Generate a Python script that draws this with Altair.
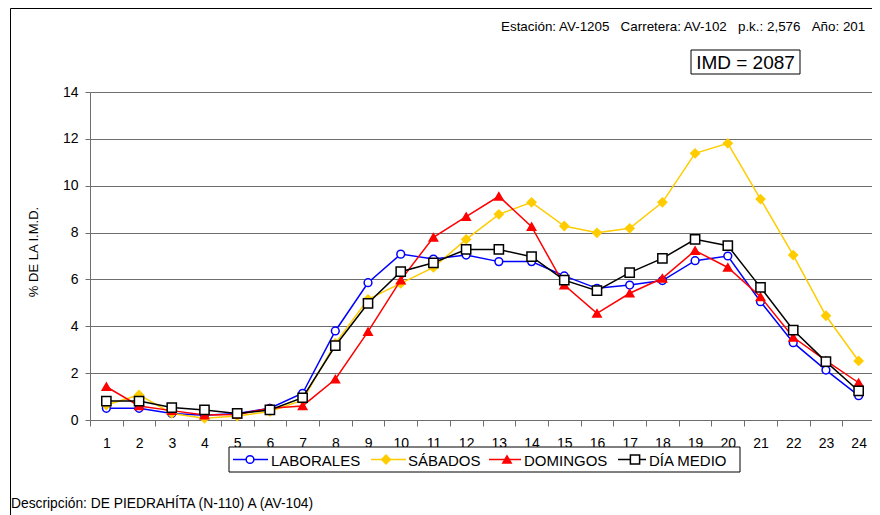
import altair as alt
import pandas as pd

hours = list(range(1, 25))
laborales = [0.50, 0.50, 0.28, 0.20, 0.28, 0.50, 1.14, 3.80, 5.86, 7.08, 6.87, 7.04,
             6.76, 6.76, 6.15, 5.62, 5.76, 5.95, 6.80, 7.00, 5.05, 3.30, 2.13, 1.04]
sabados = [0.64, 1.07, 0.28, 0.07, 0.17, 0.36, 0.85, 3.27, 5.15, 5.83, 6.51, 7.71,
           8.78, 9.29, 8.28, 7.99, 8.18, 9.29, 11.38, 11.81, 9.43, 7.04, 4.45, 2.52]
domingos = [1.42, 0.60, 0.40, 0.21, 0.24, 0.50, 0.60, 1.74, 3.77, 5.97, 7.80, 8.68,
            9.55, 8.25, 5.76, 4.55, 5.41, 6.05, 7.23, 6.51, 5.26, 3.53, 2.53, 1.59]
dia_medio = [0.81, 0.81, 0.53, 0.43, 0.28, 0.43, 0.95, 3.17, 4.98, 6.33, 6.71, 7.28,
             7.28, 6.97, 5.97, 5.52, 6.29, 6.90, 7.71, 7.44, 5.66, 3.84, 2.49, 1.24]

series_names = ["LABORALES", "SÁBADOS", "DOMINGOS", "DÍA MEDIO"]
series_vals = [laborales, sabados, domingos, dia_medio]
y_ticks = [0, 2, 4, 6, 8, 10, 12, 14]

SP = "\u00a0\u00a0\u00a0"
header_text = SP.join(["Estación: AV-1205", "Carretera: AV-102", "p.k.: 2,576", "Año: 201"])
imd_text = "IMD = 2087"
y_title = "% DE LA I.M.D."
desc_text = "Descripción: DE PIEDRAHÍTA (N-110) A (AV-104)"

rows = []
for name, vals in zip(series_names, series_vals):
    for h, v in zip(hours, vals):
        rows.append({"hora": h, "valor": v, "serie": name})
df = pd.DataFrame(rows)

FONT = "Liberation Sans"
W = 782          # visible plot width (page stays within the window)
XR = 785         # full scale range (plot continues just past the window edge)
band = XR / 24.0
AXC = "#6e6e6e"

styles = {
    "LABORALES": dict(color="#0000FF", shape="circle", fill="white", size=60),
    "SÁBADOS": dict(color="#FFCC00", shape="diamond", fill="#FFCC00", size=75),
    "DOMINGOS": dict(color="#FF0000", shape="triangle-up", fill="#FF0000", size=70),
    "DÍA MEDIO": dict(color="#000000", shape="square", fill="white", size=85),
}

x_enc = alt.X("hora:Q",
              scale=alt.Scale(domain=[0.5, 24.5], range=[0, XR], nice=False, zero=False),
              axis=alt.Axis(values=hours, format="d", title=None, grid=False,
                            tickOffset=-band / 2, labelOffset=band / 2,
                            tickSize=6, labelPadding=10, labelFontSize=14,
                            labelFont=FONT, labelColor="#000000",
                            domainColor=AXC, tickColor=AXC))
y_enc = alt.Y("valor:Q",
              scale=alt.Scale(domain=[0, 14], nice=False),
              axis=alt.Axis(values=y_ticks, title=None, grid=True, gridColor=AXC,
                            gridWidth=1, tickSize=5, labelPadding=7, labelFontSize=14,
                            labelFont=FONT, labelColor="#000000",
                            domainColor=AXC, tickColor=AXC))

base = alt.Chart(df)
one = pd.DataFrame({"a": [0]})
layers = []

frame = alt.Chart(one).mark_rect(
    fillOpacity=0, stroke="black", strokeWidth=1
).encode(x=alt.value(-79.5), x2=alt.value(900), y=alt.value(-83.5), y2=alt.value(600))
layers.append(frame)

for name in series_names:
    st = styles[name]
    sub = base.transform_filter(alt.datum.serie == name)
    line = sub.mark_line(color=st["color"], strokeWidth=1.5).encode(x=x_enc, y=y_enc)
    pts = sub.mark_point(shape=st["shape"], filled=True, fill=st["fill"], stroke=st["color"],
                         strokeWidth=1.5, size=st["size"], opacity=1).encode(x=x_enc, y=y_enc)
    layers += [line, pts]

header = alt.Chart(one).mark_text(
    text=header_text, font=FONT, fontSize=13.4, align="left", baseline="middle", color="black"
).encode(x=alt.value(411), y=alt.value(-65))

imd_box = alt.Chart(one).mark_rect(fill="white", stroke="black", strokeWidth=1).encode(
    x=alt.value(601), x2=alt.value(710), y=alt.value(-42), y2=alt.value(-18))
imd = alt.Chart(one).mark_text(
    text=imd_text, font=FONT, fontSize=19, align="center", baseline="middle", color="black"
).encode(x=alt.value(655.5), y=alt.value(-29.5))

ytitle = alt.Chart(one).mark_text(
    text=y_title, font=FONT, fontSize=13, angle=270, align="center", baseline="middle",
    color="black"
).encode(x=alt.value(-56), y=alt.value(160))

desc = alt.Chart(one).mark_text(
    text=desc_text, font=FONT, fontSize=13.8, align="left", baseline="middle", color="black"
).encode(x=alt.value(-79), y=alt.value(412))

leg_layers = [alt.Chart(one).mark_rect(fill="white", stroke="black", strokeWidth=1).encode(
    x=alt.value(139), x2=alt.value(650), y=alt.value(355), y2=alt.value(380))]
leg_pos = {
    "LABORALES": (143, 178, 160, 181),
    "SÁBADOS": (281, 316, 296, 318),
    "DOMINGOS": (399, 431, 417, 434),
    "DÍA MEDIO": (528, 556, 545, 559),
}
LY = 367.5
for name in series_names:
    st = styles[name]
    x1, x2, xm, xt = leg_pos[name]
    leg_layers.append(alt.Chart(one).mark_rule(color=st["color"], strokeWidth=1.5).encode(
        x=alt.value(x1), x2=alt.value(x2), y=alt.value(LY)))
    leg_layers.append(alt.Chart(one).mark_point(
        shape=st["shape"], filled=True, fill=st["fill"], stroke=st["color"], strokeWidth=1.5,
        size=st["size"], opacity=1).encode(x=alt.value(xm), y=alt.value(LY)))
    leg_layers.append(alt.Chart(one).mark_text(
        text=name, font=FONT, fontSize=15, align="left", baseline="middle", color="black"
    ).encode(x=alt.value(xt), y=alt.value(LY + 1)))

chart = alt.layer(*layers, header, imd_box, imd, ytitle, desc, *leg_layers).properties(
    width=W, height=328,
    autosize=alt.AutoSizeParams(type="none"),
    padding={"left": 82, "top": 84, "right": 0, "bottom": 95},
).configure_view(stroke=None).configure(background="white")

chart.save("out.html", embed_options={"renderer": "svg", "actions": False})
